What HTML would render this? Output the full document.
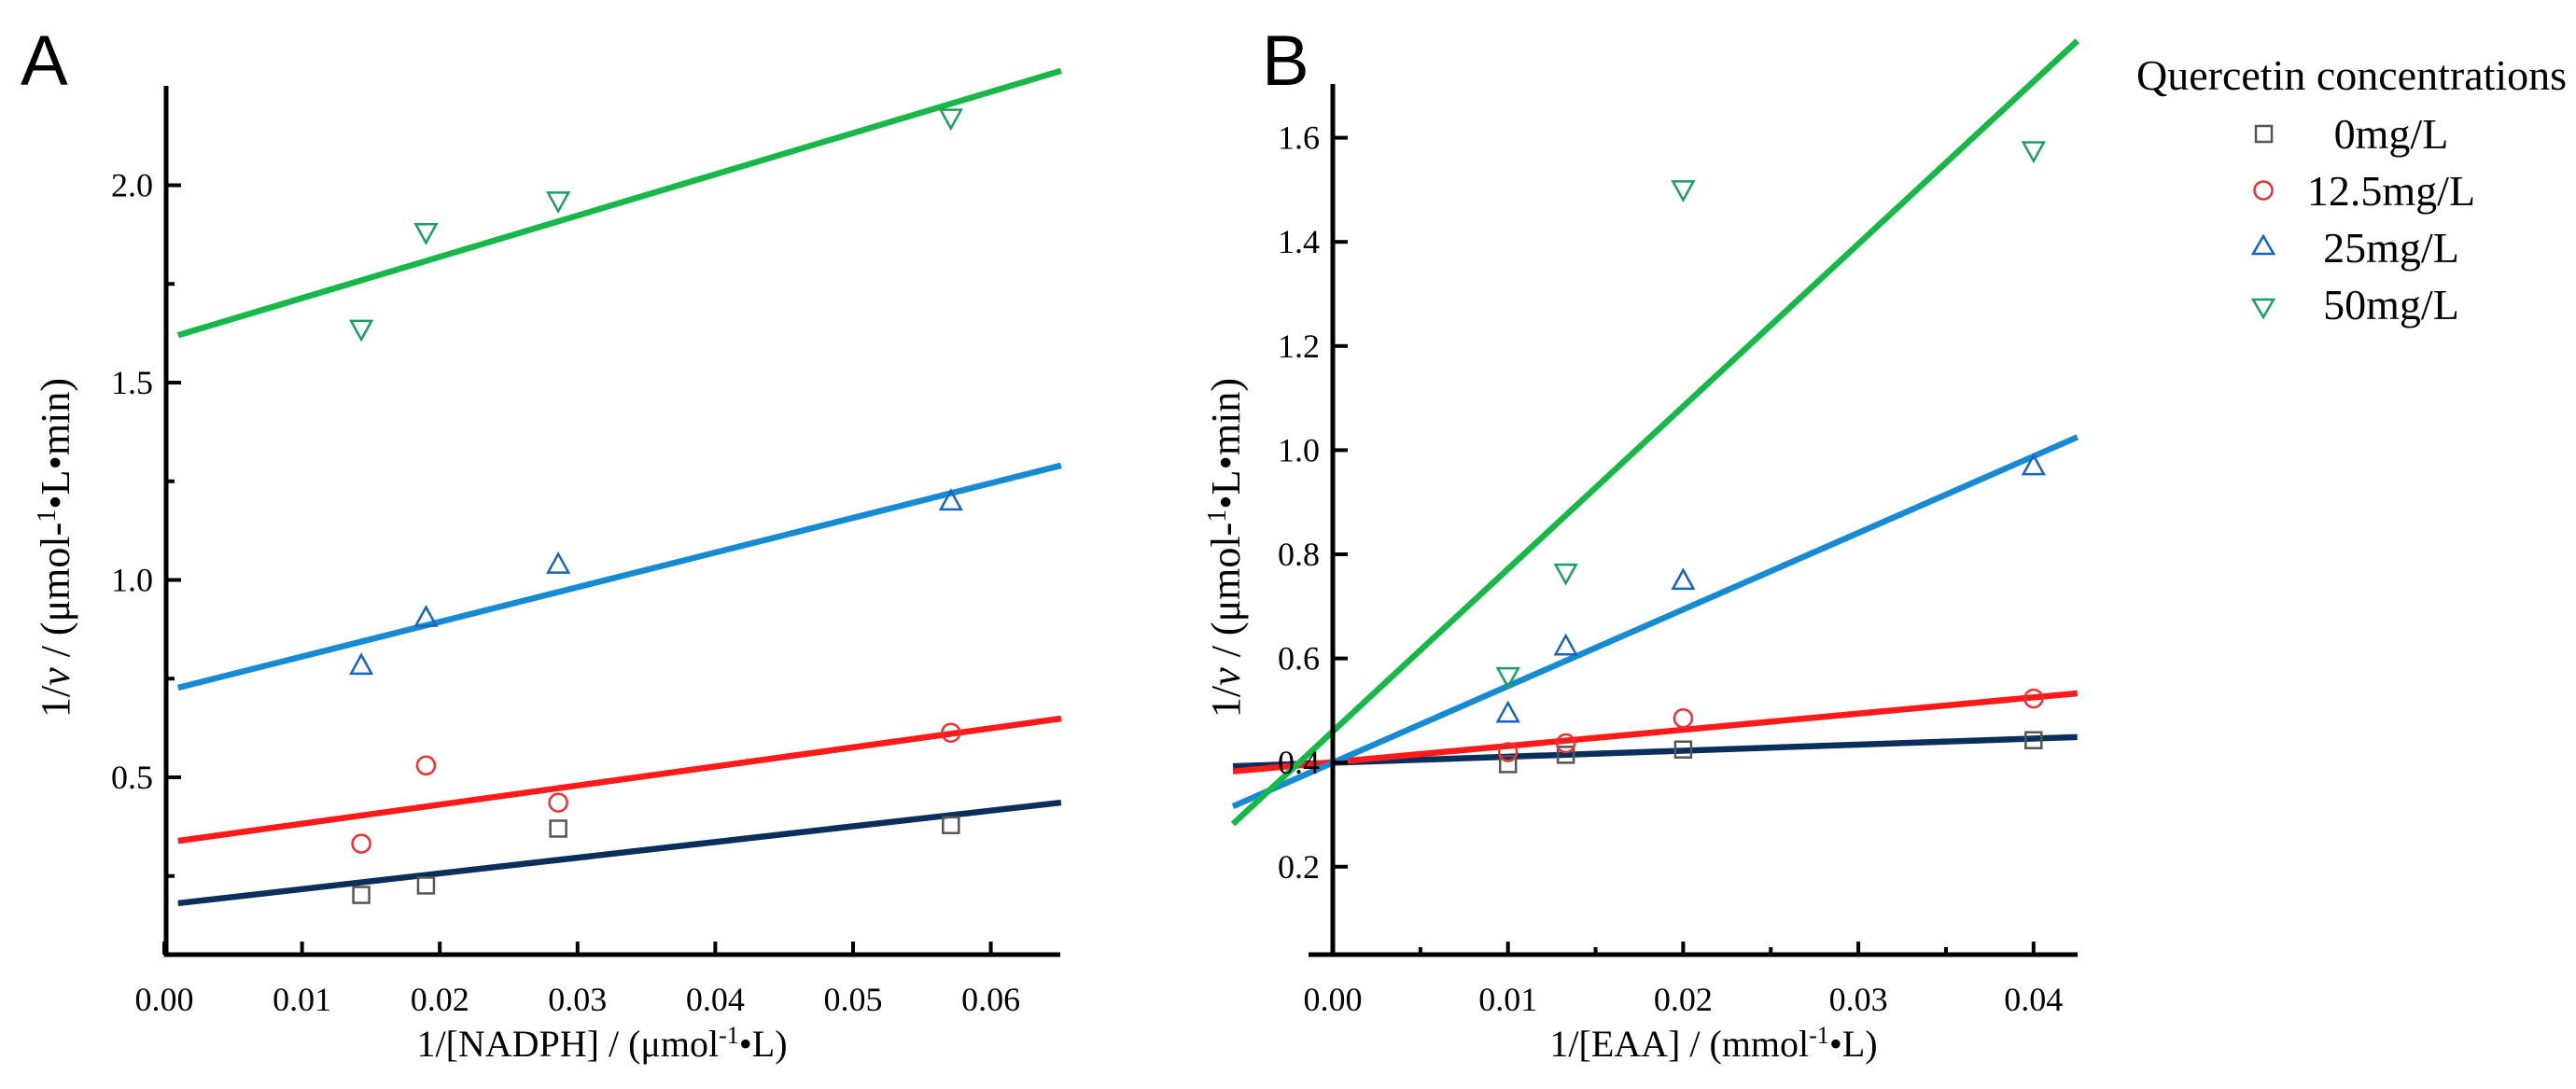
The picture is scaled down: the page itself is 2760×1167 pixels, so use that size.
<!DOCTYPE html>
<html><head><meta charset="utf-8">
<style>
html,body{margin:0;padding:0;background:#fff;}
svg{display:block;}
text{font-family:"Liberation Serif",serif;fill:#000;}
</style></head>
<body>
<svg id="fig" width="2760" height="1167" viewBox="0 0 2760 1167" xmlns="http://www.w3.org/2000/svg">
<text x="22" y="91" style="font-family:'Liberation Sans',sans-serif;font-size:76px;">A</text>
<text x="1352" y="91" style="font-family:'Liberation Sans',sans-serif;font-size:76px;">B</text>
<g id="pa"></g>
<g id="pb"></g>
<g>
<text x="2289" y="96" style="font-size:46px;">Quercetin concentrations</text>
<rect x="2417" y="135" width="17" height="17" fill="none" stroke="#555" stroke-width="2.5"/>
<text x="2562" y="159" text-anchor="middle" style="font-size:46px;">0mg/L</text>
<circle cx="2425" cy="204" r="9.5" fill="none" stroke="#f03030" stroke-width="2.5"/>
<text x="2562" y="220" text-anchor="middle" style="font-size:46px;">12.5mg/L</text>
<polygon points="2425,253 2436,272 2414,272" fill="none" stroke="#1565c0" stroke-width="2.5"/>
<text x="2562" y="281" text-anchor="middle" style="font-size:46px;">25mg/L</text>
<polygon points="2414,321 2436,321 2425,340" fill="none" stroke="#19a060" stroke-width="2.5"/>
<text x="2562" y="342" text-anchor="middle" style="font-size:46px;">50mg/L</text>
</g>
</svg>
<script>
// Panel A data
const aX = [0.0143, 0.019, 0.0286, 0.0571];
const a0 = [0.202, 0.226, 0.370, 0.379];
const a12 = [0.332, 0.530, 0.436, 0.613];
const a25 = [0.784, 0.905, 1.04, 1.20];
const a50 = [1.635, 1.88, 1.96, 2.17];
const aFitX = [0.001, 0.0651];
const aFit0 = [0.181, 0.436];
const aFit12 = [0.339, 0.649];
const aFit25 = [0.727, 1.29];
const aFit50 = [1.62, 2.29];
const aXTicks = [0.00, 0.01, 0.02, 0.03, 0.04, 0.05, 0.06];
const aXTickLabels = ["0.00","0.01","0.02","0.03","0.04","0.05","0.06"];
const aYTicks = [0.5, 1.0, 1.5, 2.0];
const aYTickLabels = ["0.5","1.0","1.5","2.0"];
const aYMinor = [0.25, 0.75, 1.25, 1.75];
// Panel B data
const bX = [0.01, 0.0133, 0.02, 0.04];
const b0 = [0.397, 0.415, 0.425, 0.443];
const b12 = [0.420, 0.437, 0.485, 0.523];
const b25 = [0.495, 0.624, 0.750, 0.970];
const b50 = [0.565, 0.764, 1.50, 1.575];
const bFitX = [-0.0057, 0.0425];
const bFit0 = [0.393, 0.449];
const bFit12 = [0.383, 0.533];
const bFit25 = [0.316, 1.025];
const bFit50 = [0.282, 1.786];
const bXTicks = [0.00, 0.01, 0.02, 0.03, 0.04];
const bXTickLabels = ["0.00","0.01","0.02","0.03","0.04"];
const bXMinor = [0.005, 0.015, 0.025, 0.035];
const bYTicks = [0.2, 0.4, 0.6, 0.8, 1.0, 1.2, 1.4, 1.6];
const bYTickLabels = ["0.2","0.4","0.6","0.8","1.0","1.2","1.4","1.6"];

const NS = "http://www.w3.org/2000/svg";
function mk(parent, tag, attrs){const e=document.createElementNS(NS,tag);for(const k in attrs)e.setAttribute(k,attrs[k]);parent.appendChild(e);return e;}

const lineColors = ["#0b2f5c","#ff1a1a","#168bd3","#16b947"];
const markColors = ["#555555","#f03030","#1565c0","#19a060"];

function marker(g, shape, cx, cy, color){
  let e;
  if(shape===0){e=mk(g,"rect",{x:cx-8.5,y:cy-8.5,width:17,height:17,fill:"none",stroke:color,"stroke-width":2.5});}
  else if(shape===1){e=mk(g,"circle",{cx:cx,cy:cy,r:9.5,fill:"none",stroke:color,"stroke-width":2.5});}
  else if(shape===2){e=mk(g,"polygon",{points:`${cx},${cy-11} ${cx+11},${cy+9} ${cx-11},${cy+9}`,fill:"none",stroke:color,"stroke-width":2.5});}
  else {e=mk(g,"polygon",{points:`${cx-11},${cy-9} ${cx+11},${cy-9} ${cx},${cy+11}`,fill:"none",stroke:color,"stroke-width":2.5});}
  return e;
}

function panel(g, cfg){
  const sx = v => cfg.x0 + (v - cfg.xv0) * cfg.xs;
  const sy = v => cfg.y0 - (v - cfg.yv0) * cfg.ys;
  cfg.fits.forEach((f,i)=>{
    const l = mk(g,"line",{x1:sx(cfg.fitX[0]),y1:sy(f[0]),x2:sx(cfg.fitX[1]),y2:sy(f[1]),stroke:lineColors[i],"stroke-width":6.5});
    
    
  });
  cfg.series.forEach((s,i)=>{
    s.forEach((v,j)=>{
      const m = marker(g,i,sx(cfg.px[j]),sy(v),markColors[i]);
      
      
    });
  });
  const ax = mk(g,"line",{x1:cfg.axL,y1:cfg.axY,x2:cfg.axR,y2:cfg.axY,stroke:"#000","stroke-width":5});
  
  
  const ay = mk(g,"line",{x1:cfg.axX,y1:cfg.axY+2.5,x2:cfg.axX,y2:cfg.axT,stroke:"#000","stroke-width":5});
  
  
  cfg.xt.forEach((v,i)=>{
    const t = mk(g,"line",{x1:sx(v),y1:cfg.axY,x2:sx(v),y2:cfg.axY-14,stroke:"#000","stroke-width":4});
    
    
    const tx = mk(g,"text",{x:sx(v),y:cfg.axY+60,"text-anchor":"middle",style:"font-size:36px;"});
    tx.textContent = cfg.xl[i];
    
    
  });
  (cfg.xm||[]).forEach(v=>{
    const t = mk(g,"line",{x1:sx(v),y1:cfg.axY,x2:sx(v),y2:cfg.axY-8,stroke:"#000","stroke-width":4});
    
    
  });
  cfg.yt.forEach((v,i)=>{
    const t = mk(g,"line",{x1:cfg.axX,y1:sy(v),x2:cfg.axX+16,y2:sy(v),stroke:"#000","stroke-width":4});
    
    
    const tx = mk(g,"text",{x:cfg.axX-14,y:sy(v)+12,"text-anchor":"end",style:"font-size:36px;"});
    tx.textContent = cfg.yl[i];
    
    
  });
  (cfg.ym||[]).forEach(v=>{
    const t = mk(g,"line",{x1:cfg.axX,y1:sy(v),x2:cfg.axX+9,y2:sy(v),stroke:"#000","stroke-width":4});
    
    
  });
  const xt = mk(g,"text",{x:cfg.xtX,y:1132,"text-anchor":"middle",style:"font-family:'Liberation Serif',serif;font-size:40px;"});
  xt.innerHTML = cfg.xTitle;
  
  
  const yt = mk(g,"text",{x:0,y:0,"text-anchor":"middle",transform:`translate(${cfg.ytX},587) rotate(-90)`,style:"font-family:'Liberation Serif',serif;font-size:44px;"});
  yt.innerHTML = '1/<tspan font-style="italic">v</tspan> / (μmol-<tspan baseline-shift="super" font-size="28">1</tspan>•L•min)';
  
  
}

panel(document.getElementById("pa"),{
  x0:176, xv0:0, xs:14760, y0:833, yv0:0.5, ys:423,
  axL:176, axR:1136, axY:1023, axX:178, axT:92,
  fitX:aFitX, fits:[aFit0,aFit12,aFit25,aFit50], px:aX, series:[a0,a12,a25,a50],
  xt:aXTicks, xl:aXTickLabels, yt:aYTicks, yl:aYTickLabels, ym:aYMinor,
  xtX:645, ytX:74,
  xTitle:'1/[NADPH] / (μmol<tspan baseline-shift="super" font-size="26">-1</tspan>•L)'
});
panel(document.getElementById("pb"),{
  x0:1428, xv0:0, xs:18770, y0:594, yv0:0.8, ys:558,
  axL:1402, axR:2226, axY:1023, axX:1428, axT:90,
  fitX:bFitX, fits:[bFit0,bFit12,bFit25,bFit50], px:bX, series:[b0,b12,b25,b50],
  xt:bXTicks, xl:bXTickLabels, xm:bXMinor, yt:bYTicks, yl:bYTickLabels,
  xtX:1836, ytX:1328,
  xTitle:'1/[EAA] / (mmol<tspan baseline-shift="super" font-size="26">-1</tspan>•L)'
});
</script>
</body></html>
